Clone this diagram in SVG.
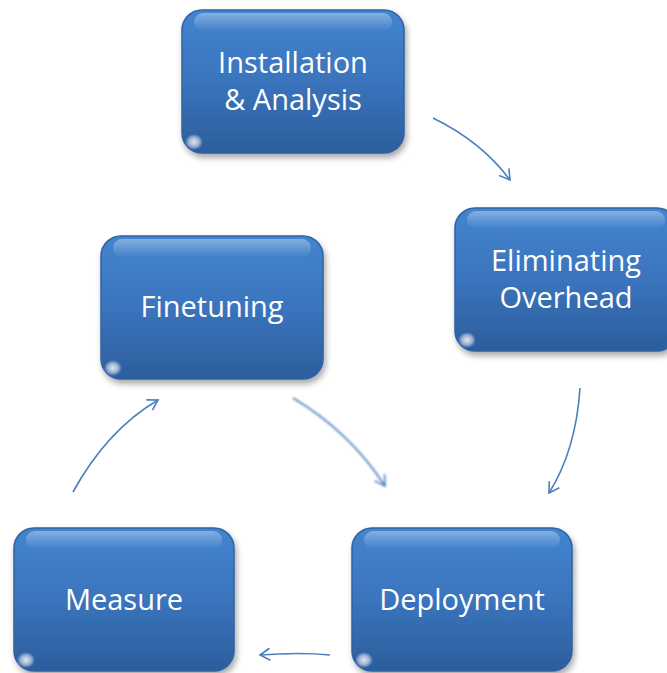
<svg xmlns="http://www.w3.org/2000/svg" width="667" height="673" viewBox="0 0 667 673">
<defs>
<linearGradient id="g" x1="0" y1="0" x2="0" y2="1">
<stop offset="0" stop-color="#4485d0"/>
<stop offset="0.5" stop-color="#3a74bd"/>
<stop offset="1" stop-color="#2c5e9c"/>
</linearGradient>
<linearGradient id="hl" x1="0" y1="0" x2="0" y2="1">
<stop offset="0" stop-color="#ffffff" stop-opacity="0.35"/>
<stop offset="1" stop-color="#ffffff" stop-opacity="0"/>
</linearGradient>
<radialGradient id="corner" cx="0.5" cy="0.5" r="0.5">
<stop offset="0" stop-color="#ffffff" stop-opacity="0.85"/>
<stop offset="0.6" stop-color="#ffffff" stop-opacity="0.5"/>
<stop offset="1" stop-color="#ffffff" stop-opacity="0"/>
</radialGradient>
<filter id="sh" x="-10%" y="-10%" width="125%" height="130%">
<feGaussianBlur in="SourceAlpha" stdDeviation="3"/>
<feOffset dx="2" dy="4" result="b"/>
<feComponentTransfer><feFuncA type="linear" slope="0.35"/></feComponentTransfer>
<feMerge><feMergeNode/><feMergeNode in="SourceGraphic"/></feMerge>
</filter>
<filter id="blur"><feGaussianBlur stdDeviation="0.9"/></filter>
<marker id="ah" markerWidth="14" markerHeight="14" refX="11" refY="7" orient="auto" markerUnits="userSpaceOnUse">
<path d="M1,1 L11,7 L1,13" fill="none" stroke="#4a7ebf" stroke-width="1.6"/>
</marker>
</defs>
<style>
.box{fill:url(#g);stroke:#2f62a3;stroke-width:1.5;filter:url(#sh)}
.hl{fill:url(#hl)}
.cn{fill:url(#corner)}
.t{font-family:"Open Sans","Liberation Sans",sans-serif;font-size:29px;fill:#ffffff;text-anchor:middle}
.c{fill:none;stroke:#4a7ebf;stroke-width:1.6;marker-end:url(#ah)}
</style>
<g id="installation">
<rect class="box" x="182" y="10" width="222" height="143" rx="20"/>
<rect class="hl" x="194" y="13" width="198" height="18" rx="9"/>
<ellipse class="cn" cx="194" cy="142" rx="9" ry="8"/>
<text class="t" x="293" y="73">Installation</text>
<text class="t" x="293" y="110">&amp; Analysis</text>
</g>
<g id="eliminating">
<rect class="box" x="455" y="208" width="222" height="143" rx="20"/>
<rect class="hl" x="467" y="211" width="198" height="18" rx="9"/>
<ellipse class="cn" cx="467" cy="340" rx="9" ry="8"/>
<text class="t" x="566" y="271">Eliminating</text>
<text class="t" x="566" y="308">Overhead</text>
</g>
<g id="finetuning">
<rect class="box" x="101" y="236" width="222" height="143" rx="20"/>
<rect class="hl" x="113" y="239" width="198" height="18" rx="9"/>
<ellipse class="cn" cx="113" cy="368" rx="9" ry="8"/>
<text class="t" x="212" y="317">Finetuning</text>
</g>
<g id="measure">
<rect class="box" x="14" y="528" width="220" height="143" rx="20"/>
<rect class="hl" x="26" y="531" width="196" height="18" rx="9"/>
<ellipse class="cn" cx="26" cy="660" rx="9" ry="8"/>
<text class="t" x="124" y="610">Measure</text>
</g>
<g id="deployment">
<rect class="box" x="352" y="528" width="220" height="143" rx="20"/>
<rect class="hl" x="364" y="531" width="196" height="18" rx="9"/>
<ellipse class="cn" cx="364" cy="660" rx="9" ry="8"/>
<text class="t" x="462" y="610">Deployment</text>
</g>
<g id="connectors">
<path class="c" d="M433,118 Q482,142 510,180"/>
<path class="c" d="M580,388 Q576,450 549,493"/>
<path class="c" d="M293,398 Q350,432 385,486" filter="url(#blur)"/>
<path class="c" d="M330,655 Q300,652 260,655"/>
<path class="c" d="M73,492 Q107,430 158,400"/>
</g>
</svg>
